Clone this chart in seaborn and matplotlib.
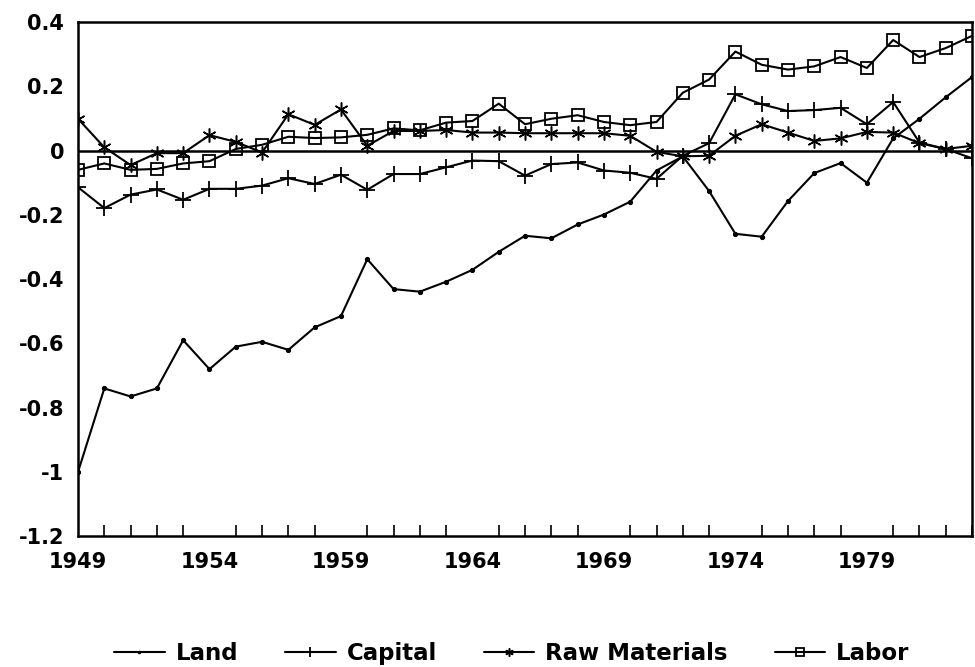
import numpy as np
import pandas as pd
import matplotlib
matplotlib.use("Agg")
import matplotlib.pyplot as plt
import seaborn as sns
from matplotlib.ticker import MultipleLocator

years = list(range(1949, 1984))

land = [-1.00, -0.74, -0.765, -0.74, -0.59, -0.68, -0.61, -0.595, -0.62, -0.55,
        -0.515, -0.338, -0.431, -0.439, -0.408, -0.371, -0.315, -0.265, -0.273, -0.230,
        -0.199, -0.159, -0.062, -0.018, -0.126, -0.259, -0.268, -0.157, -0.070, -0.039,
        -0.100, 0.038, 0.099, 0.166, 0.229]

capital = [-0.114, -0.179, -0.137, -0.121, -0.153, -0.119, -0.119, -0.109, -0.086, -0.104,
           -0.075, -0.122, -0.073, -0.073, -0.052, -0.031, -0.033, -0.078, -0.042, -0.037,
           -0.062, -0.069, -0.088, -0.016, 0.023, 0.175, 0.144, 0.123, 0.126, 0.133,
           0.082, 0.151, 0.025, 0.005, -0.024]

raw_materials = [0.099, 0.010, -0.045, -0.008, -0.008, 0.048, 0.027, -0.006, 0.113, 0.080,
                 0.128, 0.015, 0.061, 0.061, 0.064, 0.056, 0.056, 0.054, 0.054, 0.054,
                 0.054, 0.046, -0.004, -0.018, -0.016, 0.046, 0.082, 0.056, 0.030, 0.038,
                 0.058, 0.056, 0.023, 0.005, 0.015]

labor = [-0.060, -0.040, -0.060, -0.057, -0.040, -0.033, 0.005, 0.018, 0.043, 0.039,
         0.041, 0.049, 0.069, 0.063, 0.087, 0.092, 0.146, 0.082, 0.099, 0.110,
         0.089, 0.079, 0.089, 0.180, 0.221, 0.308, 0.267, 0.252, 0.262, 0.291,
         0.257, 0.344, 0.291, 0.319, 0.357]

series_names = ["Land", "Capital", "Raw Materials", "Labor"]
x_tick_years = [1949, 1954, 1959, 1964, 1969, 1974, 1979]
y_ticks = [0.4, 0.2, 0.0, -0.2, -0.4, -0.6, -0.8, -1.0, -1.2]
y_tick_labels = ["0.4", "0.2", "0", "-0.2", "-0.4", "-0.6", "-0.8", "-1", "-1.2"]

sns.set_style("white")
plt.rcParams["font.family"] = ["DejaVu Sans"]
plt.rcParams["font.weight"] = "bold"
plt.rcParams["text.color"] = "black"
plt.rcParams["xtick.color"] = "black"
plt.rcParams["ytick.color"] = "black"

df = pd.DataFrame({
    "year": years * 4,
    "value": land + capital + raw_materials + labor,
    "series": sum([[n] * len(years) for n in series_names], []),
})

fig = plt.figure(figsize=(9.75, 6.67), dpi=100)
ax = fig.add_axes([0.08, 0.196, 0.917, 0.771])

styles = {
    "Land": dict(marker="o", markersize=3, fillstyle="full"),
    "Capital": dict(marker="+", markersize=11, markeredgewidth=1.3),
    "Raw Materials": dict(marker=(6, 2, 0), markersize=10, markeredgewidth=1.1),
    "Labor": dict(marker="s", markersize=9, markerfacecolor="none", markeredgewidth=1.3),
}

for name in series_names:
    sub = df[df["series"] == name]
    sns.lineplot(data=sub, x="year", y="value", ax=ax, color="black", linewidth=1.5,
                 label=name, markeredgecolor="black", **styles[name])

ax.axhline(0, color="black", linewidth=1.8, zorder=1)

ax.set_xlim(1949, 1983)
ax.set_ylim(-1.2, 0.4)
ax.set_xticks(x_tick_years)
ax.set_xticklabels([str(y) for y in x_tick_years], fontsize=15, fontweight="bold", color="black")
ax.xaxis.set_minor_locator(MultipleLocator(1))
ax.set_yticks(y_ticks)
ax.set_yticklabels(y_tick_labels, fontsize=15, fontweight="bold", color="black")
ax.tick_params(axis="x", which="major", direction="inout", length=20, width=1.2, pad=1,
               labelcolor="black")
ax.tick_params(axis="x", which="minor", direction="in", length=8, width=1.2, bottom=True)
ax.tick_params(axis="y", which="major", direction="in", length=8, width=1.2, pad=10,
               labelcolor="black")
ax.set_xlabel("")
ax.set_ylabel("")
for s in ax.spines.values():
    s.set_color("black")
    s.set_linewidth(1.8)

ax.get_legend().remove()
handles, labels = ax.get_legend_handles_labels()
leg = fig.legend(handles, labels, loc="center", bbox_to_anchor=(0.525, 0.02), ncol=4,
                 frameon=False, prop={"size": 16.5, "weight": "bold"}, handlelength=2.2,
                 handletextpad=0.48, columnspacing=2.05, markerscale=0.6)
for t in leg.get_texts():
    t.set_color("black")

fig.savefig("out.png", dpi=100)
